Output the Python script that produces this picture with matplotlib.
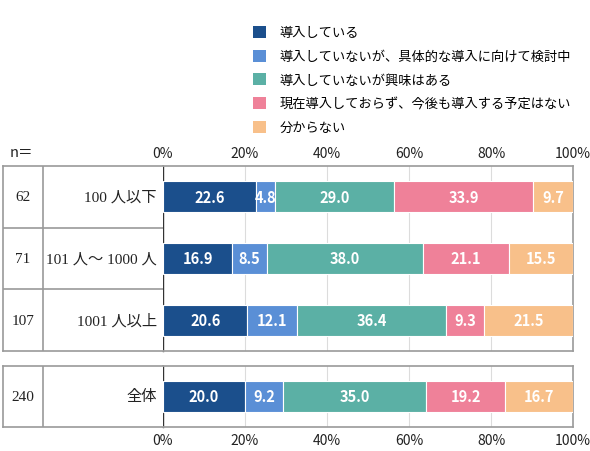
import matplotlib
matplotlib.use("Agg")
import matplotlib.pyplot as plt
import numpy as np

plt.rcParams['font.family'] = ['Noto Sans CJK JP', 'DejaVu Sans']

# ---- data ----
series_labels = ["導入している", "導入していないが、具体的な導入に向けて検討中",
                 "導入していないが興味はある", "現在導入しておらず、今後も導入する予定はない",
                 "分からない"]
colors = ["#1B4F8C", "#5A8FD6", "#5BB0A5", "#EF8199", "#F8C08A"]
categories = ["100 人以下", "101 人～ 1000 人", "1001 人以上"]
n_values = ["62", "71", "107"]
values = np.array([
    [22.6, 4.8, 29.0, 33.9, 9.7],
    [16.9, 8.5, 38.0, 21.1, 15.5],
    [20.6, 12.1, 36.4, 9.3, 21.5],
])
total_category = ["全体"]
total_n = ["240"]
total_values = np.array([[20.0, 9.2, 35.0, 19.2, 16.7]])
tick_vals = [0, 20, 40, 60, 80, 100]
tick_labels = ["0%", "20%", "40%", "60%", "80%", "100%"]

W, H = 590, 452
fig = plt.figure(figsize=(W / 100, H / 100), dpi=100)

def fx(px):
    return px / W

def fy(py):
    return 1 - py / H

x0, x1 = 163, 573
tx0 = 3
g1_top, g1_bot = 167, 352
g2_top, g2_bot = 367, 428

gray = "#9a9a9a"
dark = "#333333"
grid_c = "#dcdcdc"
serif = ['Liberation Serif', 'Noto Sans CJK JP', 'DejaVu Sans']


def make_group(top, bot, vals, cats, ns, ticks_top):
    nrows = len(cats)
    ax = fig.add_axes([fx(x0), fy(bot), fx(x1) - fx(x0), fy(top) - fy(bot)])
    axt = fig.add_axes([fx(tx0), fy(bot), fx(x0) - fx(tx0), fy(top) - fy(bot)])
    ypos = np.arange(nrows) + 0.5
    left = np.zeros(nrows)
    for j in range(vals.shape[1]):
        bars = ax.barh(ypos, vals[:, j], left=left, height=0.5, color=colors[j],
                       edgecolor="white", linewidth=0.8, label=series_labels[j], zorder=3)
        ax.bar_label(bars, labels=[f"{v:.1f}" for v in vals[:, j]], label_type="center",
                     color="white", fontsize=10.5, fontweight="semibold")
        left += vals[:, j]
    ax.set_xlim(0, 100)
    ax.set_ylim(nrows, 0)
    ax.set_yticks([])
    ax.set_xticks(tick_vals)
    ax.set_xticklabels(tick_labels, fontsize=10)
    ax.tick_params(axis="x", length=0, pad=4, colors="#222222",
                   top=False, bottom=False, labeltop=ticks_top, labelbottom=not ticks_top)
    for v in tick_vals[1:-1]:
        ax.axvline(v, color=grid_c, linewidth=0.8, zorder=1)
    for s in ["top", "bottom", "right"]:
        ax.spines[s].set_color(gray)
        ax.spines[s].set_linewidth(1.2)
    ax.spines["left"].set_color(dark)
    ax.spines["left"].set_linewidth(1.0)

    # table part
    axt.set_xlim(0, x0 - tx0)
    axt.set_ylim(nrows, 0)
    axt.set_xticks([])
    axt.set_yticks([])
    for s in ["top", "bottom", "left"]:
        axt.spines[s].set_color(gray)
        axt.spines[s].set_linewidth(1.2)
    axt.spines["right"].set_visible(False)
    axt.axvline(40, color=gray, linewidth=1.2)
    for k in range(1, nrows):
        axt.axhline(k, color=gray, linewidth=1.2)
    for k in range(nrows):
        axt.text(20, ypos[k], ns[k], ha="center", va="center", fontsize=11,
                 color="#222222", family=serif)
        axt.text(154, ypos[k], cats[k], ha="right", va="center", fontsize=11,
                 color="#222222", family=serif)
    return ax


ax1 = make_group(g1_top, g1_bot, values, categories, n_values, True)
ax2 = make_group(g2_top, g2_bot, total_values, total_category, total_n, False)

fig.text(fx(10), fy(153), "n＝", ha="left", va="center", fontsize=10.5, color="#222222")

handles, labels = ax1.get_legend_handles_labels()
leg = fig.legend(handles, labels, loc="upper left", bbox_to_anchor=(fx(253), fy(27)),
                 frameon=False, fontsize=9.5, handlelength=1.0, handleheight=1.0,
                 handletextpad=1.0, labelspacing=0.78, borderaxespad=0, borderpad=0)
for h in leg.legend_handles:
    h.set_edgecolor("none")

fig.savefig("out.png", dpi=100)
